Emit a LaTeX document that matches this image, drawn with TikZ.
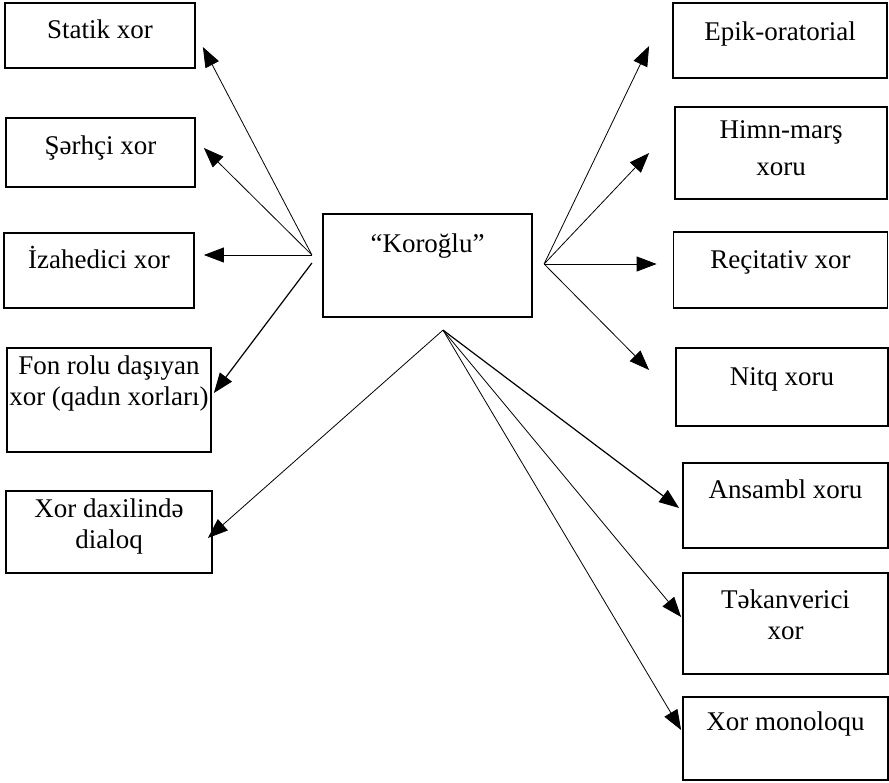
\documentclass[tikz,border=0pt]{standalone}
\usepackage{fontspec}
\setmainfont{Liberation Serif}
\usepackage{tikz}
\usetikzlibrary{arrows.meta}
\usetikzlibrary{calc}

\begin{document}
\begin{tikzpicture}[x=1pt,y=-1pt,
  xorbox/.style={draw,line width=1.8pt,inner sep=0pt,align=center,
    text height=35pt,font=\fontsize{27}{31}\selectfont},
  arr/.style={-{Triangle[length=20pt,width=15pt]},line width=0.8pt}]
 \useasboundingbox (0,0) rectangle (889,782);
  % center
  \node[xorbox,line width=2.2pt,minimum width=209pt,text height=38pt,text depth=65pt] (koroglu) at (427.5,265.5) {``Koroğlu''};
  \coordinate (hubL) at ($(koroglu.west)+(-10,-10.5)$);
  \coordinate (hubR) at ($(koroglu.east)+(11,-1.5)$);
  \coordinate (hubB) at ($(koroglu.south)+(15.5,12)$);

  % left column
  \node[xorbox,minimum width=190pt,text depth=30pt] (statik) at (100,35.5) {Statik xor};
  \node[xorbox,minimum width=189pt,text height=36pt,text depth=33pt] (serhci) at (100.5,152.5) {Şərhçi xor};
  \node[xorbox,minimum width=190pt,text depth=40pt] (izah) at (99,270.5) {İzahedici xor};
  \node[xorbox,minimum width=204pt,text height=57pt,text depth=47pt] (fon) at (109,400) {Fon rolu daşıyan\\xor (qadın xorları)};
  \node[xorbox,minimum width=206pt,text height=57pt,text depth=25pt] (dialoq) at (109,532) {Xor daxilində\\dialoq};

  % right column
  \node[xorbox,minimum width=214pt,text height=37pt,text depth=38pt] (epik) at (780,40.5) {Epik-oratorial};
  \node[xorbox,minimum width=212pt,text height=68pt,text depth=24pt] (himn) at (781,153) {Himn-marş\\[6pt]xoru};
  \node[xorbox,minimum width=214pt,text height=36pt,text depth=40pt] (recit) at (780.5,270) {Reçitativ xor};
  \node[xorbox,minimum width=212pt,text height=37pt,text depth=41pt] (nitq) at (782,387) {Nitq xoru};
  \node[xorbox,minimum width=205pt,text depth=50pt] (ansambl) at (785.5,505.5) {Ansambl xoru};
  \node[xorbox,minimum width=205pt,text height=66pt,text depth=35pt] (tekan) at (785.5,623.5) {Təkanverici\\xor};
  \node[xorbox,minimum width=205pt,text height=33pt,text depth=50pt] (monol) at (785.5,738.5) {Xor monoloqu};

  % arrows
  \draw[arr] (hubL) -- ($(statik.east)+(7,11.5)$);
  \draw[arr] (hubL) -- ($(serhci.east)+(8,-4.5)$);
  \draw[arr] (hubL) -- ($(izah.east)+(9,-15.5)$);
  \draw[arr,line width=1.2pt] ($(hubL)+(0,8)$) -- ($(fon.east)+(2,-7)$);
  \draw[arr] (hubB) -- ($(dialoq.east)+(-5,6)$);
  \draw[arr] (hubR) -- ($(epik.west)+(-23,5.5)$);
  \draw[arr] (hubR) -- ($(himn.west)+(-25,0)$);
  \draw[arr] (hubR) -- ($(recit.west)+(-16,-6)$);
  \draw[arr] (hubR) -- ($(nitq.west)+(-26,-17)$);
  \draw[arr,line width=1.2pt] (hubB) -- ($(ansambl.west)+(-3,2.5)$);
  \draw[arr] (hubB) -- ($(tekan.west)+(-1,-6.5)$);
  \draw[arr] (hubB) -- ($(monol.west)+(-1,-8.5)$);
\end{tikzpicture}
\end{document}
